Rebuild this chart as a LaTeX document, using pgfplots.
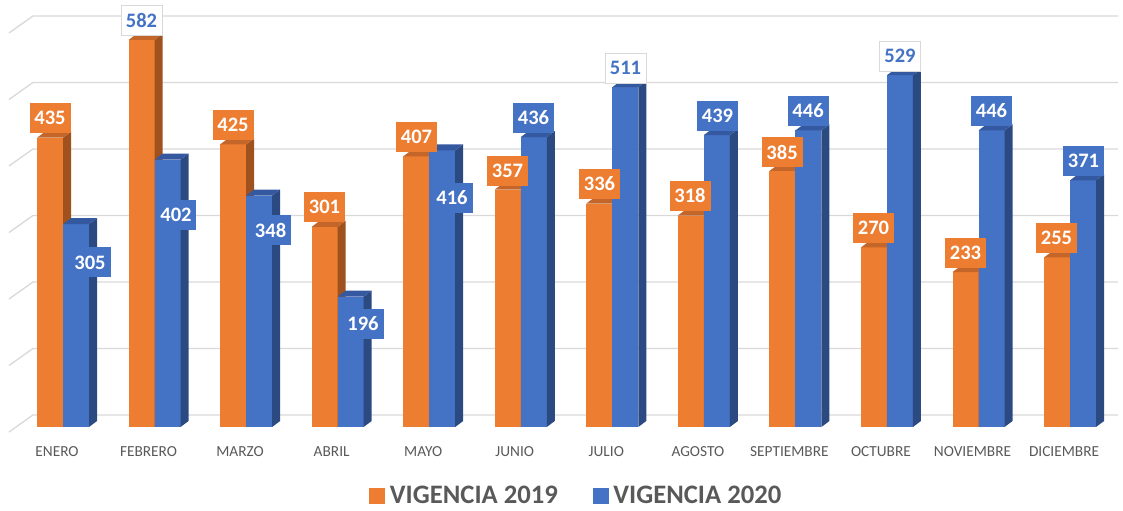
\documentclass[border=0pt]{standalone}
\usepackage{pgfplots}
\usepackage{pgfplotstable}
\pgfplotsset{compat=1.18}
\usepackage{fontspec}
\setmainfont{Carlito}
\definecolor{ofront}{HTML}{ED7D31}
\definecolor{oside}{HTML}{A0521E}
\definecolor{otop}{HTML}{C4652A}
\definecolor{bfront}{HTML}{4472C4}
\definecolor{bside}{HTML}{2C4A82}
\definecolor{btop}{HTML}{3559A0}
\definecolor{txtgray}{HTML}{595959}
\definecolor{gridc}{HTML}{D9D9D9}
\newcommand{\labfont}{\fontsize{15.4}{18}\selectfont\bfseries}

\pgfplotstableread{
m o b
0 435 305
1 582 402
2 425 348
3 301 196
4 407 416
5 357 436
6 336 511
7 318 439
8 385 446
9 270 529
10 233 446
11 255 371
}\datatable

% label positions (orange boxes)
\pgfplotstableread{
x y lab
-0.142 464.7 435
1.857 454.1 425
2.856 330.8 301
3.861 436.1 407
4.855 385.7 357
5.860 365.4 336
6.849 347.4 318
7.854 413.5 385
8.853 299.2 270
9.858 262.4 233
10.852 284.2 255
}\olabels
% label positions (blue boxes)
\pgfplotstableread{
x y lab
0.295 247.4 305
1.234 319.5 402
2.267 295.5 348
3.277 155.6 196
4.249 344.4 416
5.139 465.4 436
7.149 467.7 439
8.138 475.2 446
10.142 475.2 446
11.147 400.0 371
}\blabels
% label positions (white boxes)
\pgfplotstableread{
x y lab
0.857 611.3 582
6.144 539.8 511
9.142 557.9 529
}\wlabels

\newcommand{\drawbar}[6]{%
  \pgfmathsetmacro\xa{#1}\pgfmathsetmacro\xb{#2}%
  \pgfmathsetmacro\xc{#1+0.0874}\pgfmathsetmacro\xd{#2+0.0874}%
  \pgfmathsetmacro\vv{#3}\pgfmathsetmacro\vt{#3+9}%
  \edef\tmp{%
   \noexpand\addplot[fill=#4,draw=none,forget plot] coordinates {(\xa,0) (\xa,\vv) (\xb,\vv) (\xb,0)};
   \noexpand\addplot[fill=#5,draw=none,forget plot] coordinates {(\xb,0) (\xb,\vv) (\xd,\vt) (\xd,9)};
   \noexpand\addplot[fill=#6,draw=none,forget plot] coordinates {(\xa,\vv) (\xc,\vt) (\xd,\vt) (\xb,\vv)};
  }\tmp}

\begin{document}
\begin{tikzpicture}
\begin{axis}[
  scale only axis,
  width=842.25pt, height=382.5pt,
  xmin=-0.68815, xmax=11.5784,
  ymin=-124.81, ymax=642.1,
  axis line style={draw=none},
  tick style={draw=none},
  ytick=\empty,
  xtick={0,...,11},
  xticklabels={ENERO,FEBRERO,MARZO,ABRIL,MAYO,JUNIO,JULIO,AGOSTO,SEPTIEMBRE,OCTUBRE,NOVIEMBRE,DICIEMBRE},
  xticklabel style={font=\fontsize{11.5}{13}\selectfont, text=txtgray, anchor=center, yshift=43.5pt, xshift=-4.5pt},
  clip=false,
  legend image code/.code={\fill[#1] (0pt,-5.6pt) rectangle (11.25pt,5.6pt);},
  legend style={at={(0.5134,0.0275)}, anchor=center, draw=none, fill=none,
    legend columns=2, font=\fontsize{20}{24}\selectfont\bfseries, text=txtgray,
    /tikz/every odd column/.append style={column sep=2pt},
    /tikz/every even column/.append style={column sep=24pt}, inner sep=0pt},
]
\addlegendimage{ofront}
\addlegendentry{VIGENCIA 2019}
\addlegendimage{bfront}
\addlegendentry{VIGENCIA 2020}

\pgfplotsinvokeforeach{0,100,...,600}{%
  \pgfmathsetmacro\ga{#1-7.5}\pgfmathsetmacro\gb{#1+18.05}%
  \edef\tmp{\noexpand\addplot[gridc, line width=1pt, forget plot] coordinates {(-0.59,\ga) (-0.328,\gb) (11.524,\gb)};}\tmp
}

\pgfplotsinvokeforeach{0,...,11}{%
  \pgfplotstablegetelem{#1}{o}\of\datatable \let\vo\pgfplotsretval
  \pgfplotstablegetelem{#1}{b}\of\datatable \let\vb\pgfplotsretval
  \drawbar{#1-0.284}{#1}{\vo}{ofront}{oside}{otop}
  \drawbar{#1}{#1+0.284}{\vb}{bfront}{bside}{btop}
}

\addplot[draw=none, mark=none, forget plot, nodes near coords, point meta=explicit symbolic,
  nodes near coords align={center},
  every node near coord/.append style={fill=ofront, text=white, font=\labfont, inner sep=0pt,
    minimum width=30.75pt, minimum height=22.5pt, anchor=center}]
  table[x=x,y=y,meta=lab]{\olabels};
\addplot[draw=none, mark=none, forget plot, nodes near coords, point meta=explicit symbolic,
  nodes near coords align={center},
  every node near coord/.append style={fill=bfront, text=white, font=\labfont, inner sep=0pt,
    minimum width=30.75pt, minimum height=22.5pt, anchor=center}]
  table[x=x,y=y,meta=lab]{\blabels};
\addplot[draw=none, mark=none, forget plot, nodes near coords, point meta=explicit symbolic,
  nodes near coords align={center},
  every node near coord/.append style={fill=white, draw=gray!30, text=bfront, font=\labfont, inner sep=0pt,
    minimum width=30.75pt, minimum height=22.5pt, anchor=center}]
  table[x=x,y=y,meta=lab]{\wlabels};
\end{axis}
\end{tikzpicture}
\end{document}
